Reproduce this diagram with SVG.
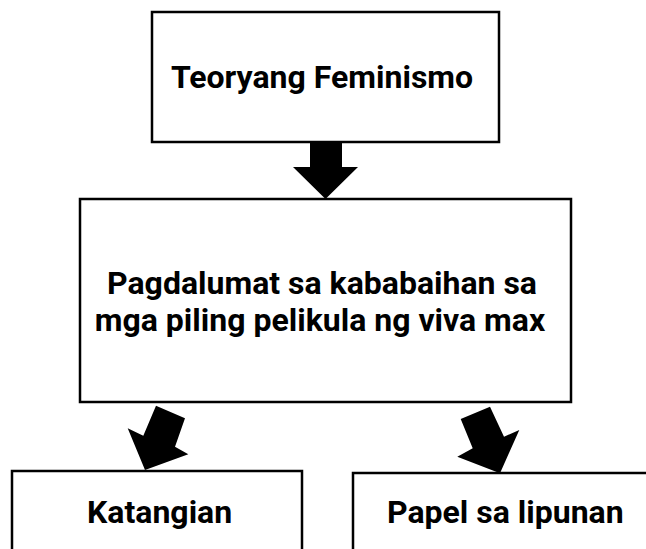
<svg xmlns="http://www.w3.org/2000/svg" width="646" height="549" viewBox="0 0 646 549">
<style>
.box{fill:#ffffff;stroke:#000000;stroke-width:2.5}
.t{font-family:Roboto,"Liberation Sans",sans-serif;font-weight:700;font-size:32px;fill:#000000}
.arr{fill:#000000;stroke:none}
</style>
<rect width="646" height="549" fill="#ffffff"/>
<g id="connectors">
<polygon class="arr" points="310,142 342,142 342,167 358,167 325.5,199 293,167 310,167"/>
<polygon class="arr" points="156,405.7 185,418.3 175,446.7 188.3,454.3 145,470 127.7,428.3 143.3,435.7"/>
<polygon class="arr" points="460.7,419 490,406.7 504,436.7 519.3,430 500,473.3 457.3,456.7 472.7,448.3"/>
</g>
<g id="node-teoryang">
<rect class="box" x="152" y="12" width="347" height="130"/>
<text class="t" x="322" y="88" text-anchor="middle">Teoryang Feminismo</text>
</g>
<g id="node-pagdalumat">
<rect class="box" x="80" y="199" width="491" height="203"/>
<text class="t" x="322" y="294" text-anchor="middle">Pagdalumat sa kababaihan sa</text>
<text class="t" x="320" y="331" text-anchor="middle">mga piling pelikula ng viva max</text>
</g>
<g id="node-katangian">
<rect class="box" x="12" y="471" width="290" height="100"/>
<text class="t" x="87" y="523">Katangian</text>
</g>
<g id="node-papel">
<rect class="box" x="353" y="473" width="320" height="100"/>
<text class="t" x="387" y="523">Papel sa lipunan</text>
</g>
</svg>
